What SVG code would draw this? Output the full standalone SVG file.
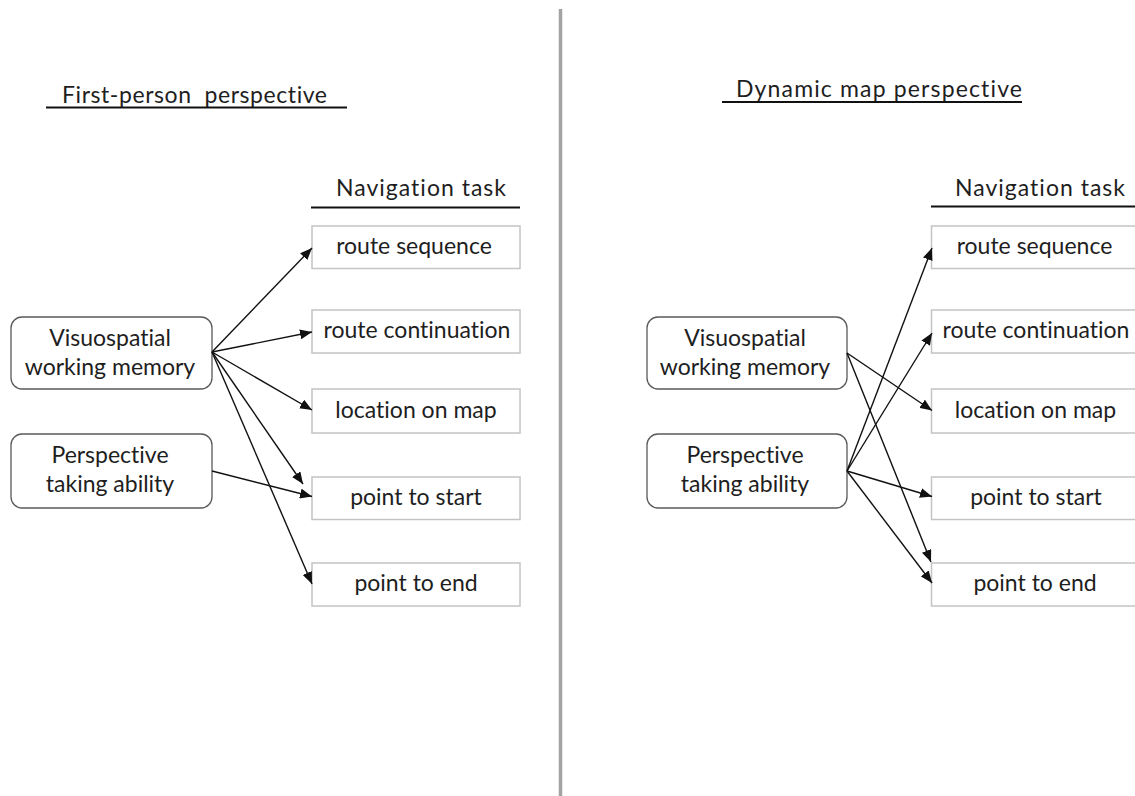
<svg xmlns="http://www.w3.org/2000/svg" width="1135" height="796" viewBox="0 0 1135 796">
  <style>
    text { font-family: Lato, "Liberation Sans", sans-serif; font-size: 23px; fill: #1e1e1e; font-variant-ligatures: none; font-feature-settings: "liga" 0, "clig" 0; }
    .mid { text-anchor: middle; }
    .pre { white-space: pre; }
    .task rect { fill: #ffffff; stroke: #c4c4c4; stroke-width: 1.5; }
    .factor rect { fill: #ffffff; stroke: #5a5a5a; stroke-width: 1.3; }
    .rule { stroke: #111111; stroke-width: 2.2; }
    #connectors line { stroke: #111111; stroke-width: 1.4; marker-end: url(#arrow); }
  </style>
  <defs>
    <marker id="arrow" markerUnits="userSpaceOnUse" markerWidth="13" markerHeight="10" refX="12" refY="5" orient="auto">
      <path d="M0,0 L12,5 L0,10 Z" fill="#111111"/>
    </marker>
  </defs>
  <rect width="1135" height="796" fill="#ffffff"/>

  <!-- panel divider -->
  <line x1="560.5" y1="9" x2="560.5" y2="796" stroke="#a3a3a3" stroke-width="3.5"/>

  <!-- ===== left panel ===== -->
  <g id="title-first-person">
    <text class="pre" x="62" y="103" textLength="265" lengthAdjust="spacing">First-person  perspective</text>
    <line class="rule" x1="46" y1="107.5" x2="347" y2="107.5"/>
  </g>
  <g id="heading-left">
    <text x="336" y="196" textLength="170" lengthAdjust="spacing">Navigation task</text>
    <line class="rule" x1="311" y1="207.5" x2="520" y2="207.5"/>
  </g>

  <g id="L-vwm" class="factor">
    <rect x="11" y="317" width="201" height="72" rx="11"/>
    <text class="mid" x="110" y="346">Visuospatial</text>
    <text class="mid" x="110" y="375">working memory</text>
  </g>
  <g id="L-pta" class="factor">
    <rect x="11" y="434" width="201" height="74" rx="11"/>
    <text class="mid" x="110" y="463">Perspective</text>
    <text class="mid" x="110" y="492">taking ability</text>
  </g>

  <g id="L-route-sequence" class="task">
    <rect x="312" y="226" width="208" height="42.5"/>
    <text class="mid" x="414" y="254">route sequence</text>
  </g>
  <g id="L-route-continuation" class="task">
    <rect x="312" y="310" width="208" height="43"/>
    <text class="mid" x="417" y="338">route continuation</text>
  </g>
  <g id="L-location-on-map" class="task">
    <rect x="312" y="389" width="208" height="44"/>
    <text class="mid" x="416" y="418">location on map</text>
  </g>
  <g id="L-point-to-start" class="task">
    <rect x="312" y="477" width="208" height="42.5"/>
    <text class="mid" x="416" y="505">point to start</text>
  </g>
  <g id="L-point-to-end" class="task">
    <rect x="312" y="563" width="208" height="43"/>
    <text class="mid" x="416" y="591">point to end</text>
  </g>

  <!-- ===== right panel ===== -->
  <g id="title-dynamic-map">
    <text x="736" y="96.5" textLength="286" lengthAdjust="spacing">Dynamic map perspective</text>
    <line class="rule" x1="722" y1="102" x2="1022" y2="102"/>
  </g>
  <g id="heading-right">
    <text x="955" y="196" textLength="170" lengthAdjust="spacing">Navigation task</text>
    <line class="rule" x1="931" y1="206.5" x2="1135" y2="206.5"/>
  </g>

  <g id="R-vwm" class="factor">
    <rect x="647" y="317" width="200" height="72" rx="11"/>
    <text class="mid" x="745" y="346">Visuospatial</text>
    <text class="mid" x="745" y="375">working memory</text>
  </g>
  <g id="R-pta" class="factor">
    <rect x="647" y="434" width="200" height="74" rx="11"/>
    <text class="mid" x="745" y="463">Perspective</text>
    <text class="mid" x="745" y="492">taking ability</text>
  </g>

  <g id="R-route-sequence" class="task">
    <rect x="931.5" y="226" width="210" height="42.5"/>
    <text class="mid" x="1034.5" y="254">route sequence</text>
  </g>
  <g id="R-route-continuation" class="task">
    <rect x="931.5" y="310" width="210" height="43"/>
    <text class="mid" x="1036" y="338">route continuation</text>
  </g>
  <g id="R-location-on-map" class="task">
    <rect x="931.5" y="389" width="210" height="44"/>
    <text class="mid" x="1035.5" y="418">location on map</text>
  </g>
  <g id="R-point-to-start" class="task">
    <rect x="931.5" y="477" width="210" height="42.5"/>
    <text class="mid" x="1036" y="505">point to start</text>
  </g>
  <g id="R-point-to-end" class="task">
    <rect x="931.5" y="563" width="210" height="43"/>
    <text class="mid" x="1035" y="591">point to end</text>
  </g>

  <!-- ===== connectors ===== -->
  <g id="connectors">
    <!-- left: first-person -->
    <line x1="212" y1="352" x2="312" y2="248"/>
    <line x1="212" y1="352" x2="312" y2="332"/>
    <line x1="212" y1="352" x2="312" y2="410"/>
    <line x1="212" y1="352" x2="303" y2="484"/>
    <line x1="212" y1="352" x2="312" y2="584"/>
    <line x1="212" y1="471" x2="312" y2="496.5"/>
    <!-- right: dynamic map -->
    <line x1="847" y1="353" x2="932" y2="410.5"/>
    <line x1="847" y1="353" x2="931" y2="562"/>
    <line x1="847" y1="471" x2="932" y2="248"/>
    <line x1="847" y1="471" x2="932" y2="333"/>
    <line x1="847" y1="471" x2="932" y2="496.5"/>
    <line x1="847" y1="471" x2="932" y2="583"/>
  </g>
</svg>
